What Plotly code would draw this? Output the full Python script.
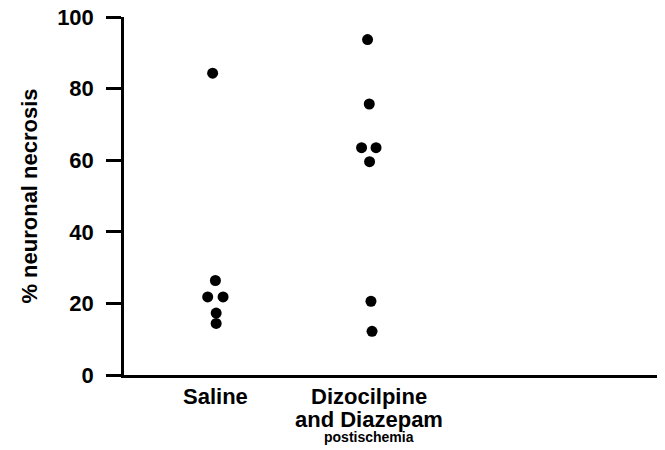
import plotly.graph_objects as go

group_pos = [1, 2]
group_labels = [["Saline"], ["Dizocilpine", "and Diazepam", "postischemia"]]

saline_vals = [84.3, 26.4, 21.8, 21.8, 17.3, 14.4]
saline_jitter = [-0.018, 0.0, -0.05, 0.05, 0.005, 0.005]

dizo_vals = [93.7, 75.7, 63.5, 63.5, 59.6, 20.6, 12.2]
dizo_jitter = [-0.011, 0.0, -0.05, 0.044, 0.002, 0.011, 0.018]

y_ticks = [0, 20, 40, 60, 80, 100]

FAM = "Liberation Sans, Arial, sans-serif"

fig = go.Figure()
for pos, vals, jit in [(group_pos[0], saline_vals, saline_jitter),
                       (group_pos[1], dizo_vals, dizo_jitter)]:
    fig.add_trace(go.Scatter(
        x=[pos + j for j in jit], y=vals, mode="markers",
        marker=dict(color="black", size=11),
        showlegend=False, hoverinfo="skip"))

line_shift = [-7, -30, -52]
line_size = [22, 22, 14]
for pos, lines in zip(group_pos, group_labels):
    for i, txt in enumerate(lines):
        fig.add_annotation(
            x=pos, y=0, xref="x", yref="paper", yanchor="top", xanchor="center",
            yshift=line_shift[i], text=txt, showarrow=False,
            font=dict(family=FAM, size=line_size[i], color="black", weight="bold"))

fig.update_layout(
    width=657, height=442,
    margin=dict(l=115.5, r=0, t=9, b=74.5, autoexpand=False),
    paper_bgcolor="white", plot_bgcolor="white",
    font=dict(family=FAM, size=22, color="black", weight="bold"),
    xaxis=dict(range=[0.406, 3.922], showgrid=False, zeroline=False,
               showline=True, linecolor="black", linewidth=2.5,
               showticklabels=False, ticks="", automargin=False),
    yaxis=dict(range=[0, 100], showgrid=False, zeroline=False, automargin=False,
               showline=True, linecolor="black", linewidth=2.5,
               tickmode="array", tickvals=y_ticks,
               ticks="outside", ticklen=15, tickwidth=2.5, tickcolor="black",
               ticklabelstandoff=8, ticklabeloverflow="allow",
               tickfont=dict(family=FAM, size=22, color="black", weight="bold"),
               title=dict(text="% neuronal necrosis", standoff=14,
                          font=dict(family=FAM, size=22, color="black", weight="bold"))),
)

fig.write_html("out.html")
